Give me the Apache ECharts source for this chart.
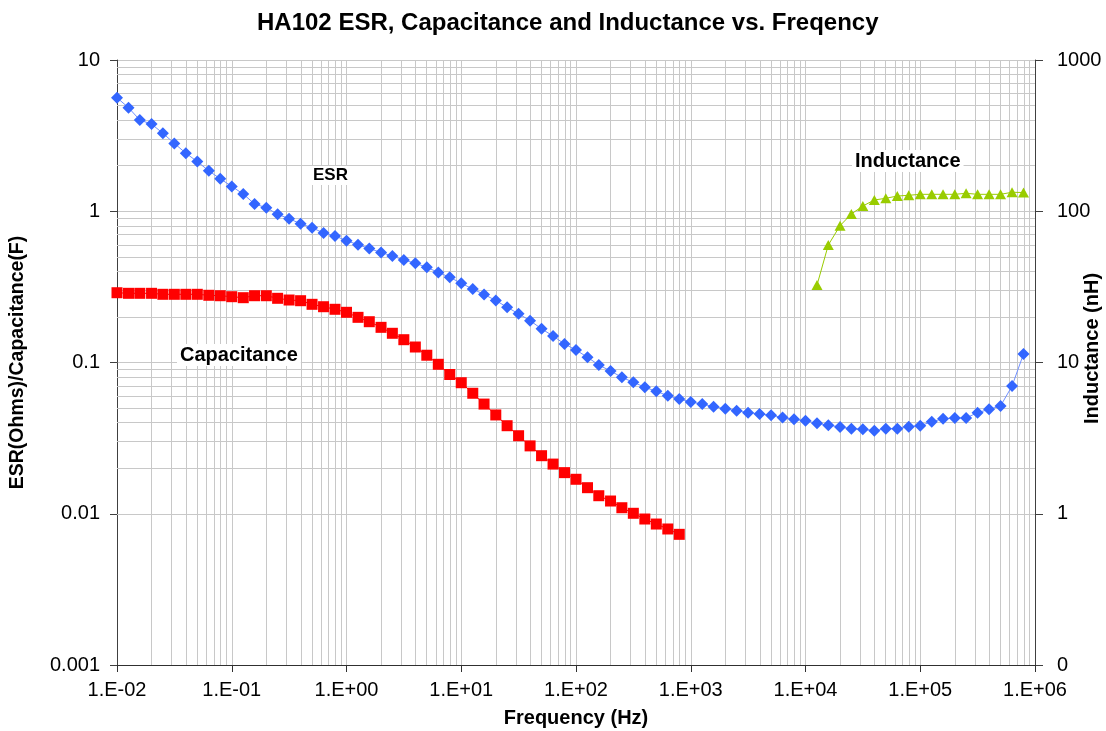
<!DOCTYPE html>
<html>
<head>
<meta charset="utf-8">
<script src="https://cdn.jsdelivr.net/npm/echarts@6/dist/echarts.min.js"></script>
<style>
html,body{margin:0;padding:0;background:#fff;}
#chart{width:1106px;height:731px;}
</style>
</head>
<body>
<div id="chart"></div>
<script>
// Frequencies (Hz), 10 points per decade
const freq = [
  0.01,0.0126,0.0158,0.02,0.0251,0.0316,0.0398,0.0501,0.0631,0.0794,
  0.1,0.126,0.158,0.2,0.251,0.316,0.398,0.501,0.631,0.794,
  1,1.26,1.58,2,2.51,3.16,3.98,5.01,6.31,7.94,
  10,12.6,15.8,20,25.1,31.6,39.8,50.1,63.1,79.4,
  100,126,158,200,251,316,398,501,631,794,
  1000,1260,1580,2000,2510,3160,3980,5010,6310,7940,
  10000,12600,15800,20000,25100,31600,39800,50100,63100,79400,
  100000,126000,158000,200000,251000,316000,398000,501000,631000,794000
];
// ESR (Ohms) at every frequency
const esr = [
  5.63,4.84,4.01,3.77,3.28,2.81,2.42,2.13,1.85,1.64,
  1.46,1.30,1.117,1.056,0.955,0.893,0.827,0.778,0.718,0.686,
  0.639,0.601,0.567,0.534,0.506,0.476,0.453,0.426,0.394,0.366,
  0.334,0.306,0.282,0.257,0.232,0.210,0.189,0.167,0.1497,0.1325,
  0.121,0.1082,0.0963,0.0879,0.0798,0.0740,0.0686,0.0645,0.0603,0.0574,
  0.0548,0.0531,0.0510,0.0495,0.0480,0.0466,0.0457,0.0448,0.0433,0.0421,
  0.0412,0.0396,0.0385,0.0375,0.0365,0.0362,0.0354,0.0365,0.0365,0.0376,
  0.0382,0.0406,0.0425,0.0430,0.0430,0.0466,0.0490,0.0516,0.0699,0.1138
];
// Capacitance (F), first 50 frequencies
const capacitance = [
  0.2893,0.2867,0.2867,0.2867,0.2824,0.2824,0.2824,0.2824,0.2782,0.2764,
  0.2723,0.2682,0.2764,0.2764,0.2657,0.2589,0.2562,0.2425,0.2338,0.2248,
  0.2147,0.1989,0.1861,0.1708,0.1560,0.1415,0.1266,0.1117,0.0973,0.0833,
  0.0735,0.0626,0.0531,0.0450,0.0382,0.0328,0.0281,0.0242,0.0213,0.0187,
  0.0169,0.01487,0.01316,0.01214,0.01096,0.01007,0.00923,0.00855,0.00793,0.00731
];
// Inductance (nH)
const indFreq = [12600,15800,20000,25100,31600,39800,50100,63100,79400,
  100000,126000,158000,200000,251000,316000,398000,501000,631000,794000];
const inductance = [32.5,59.8,80.3,95.9,108.3,118.7,121.8,126.1,127.5,
  129.4,129.4,129.4,129.4,131.4,129.4,129.4,129.4,133.5,133.0];

const xTickLabel = v => {
  const e = Math.round(Math.log10(v));
  const s = e < 0 ? '-' : '+';
  const a = Math.abs(e);
  return '1.E' + s + (a < 10 ? '0' + a : a);
};

// minor grid lines (2..9 per decade)
const minorX = [], minorY = [];
for (let e = -2; e < 6; e++) for (let m = 2; m <= 9; m++) minorX.push({xAxis: m * Math.pow(10, e)});
for (let e = -3; e < 1; e++) for (let m = 2; m <= 9; m++) minorY.push({yAxis: m * Math.pow(10, e)});

const gridColor = '#c8c8c8';
const font = '"Liberation Sans", Arial, sans-serif';

const chart = echarts.init(document.getElementById('chart'), null, {renderer: 'canvas'});
chart.setOption({
  animation: false,
  backgroundColor: '#fff',
  textStyle: {fontFamily: font},
  title: {
    text: 'HA102 ESR, Capacitance and Inductance vs. Freqency',
    left: 252, top: 6,
    textStyle: {fontSize: 24, fontWeight: 'bold', color: '#000', fontFamily: font}
  },
  grid: {left: 117, right: 71, top: 60, bottom: 66, containLabel: false, outerBoundsMode: 'none'},
  xAxis: {
    type: 'log', logBase: 10, min: 0.01, max: 1e6, splitNumber: 8,
    name: 'Frequency (Hz)', nameLocation: 'middle', nameGap: 43, nameMoveOverlap: false,
    nameTextStyle: {fontSize: 20, fontWeight: 'bold', color: '#000', fontFamily: font},
    axisLine: {lineStyle: {color: '#303030', width: 1}},
    axisTick: {show: true, length: 7, lineStyle: {color: '#303030'}},
    axisLabel: {formatter: xTickLabel, fontSize: 20, color: '#000', margin: 15, fontFamily: font},
    splitLine: {show: true, lineStyle: {color: gridColor, width: 1}}
  },
  yAxis: [{
    type: 'log', logBase: 10, min: 0.001, max: 10, splitNumber: 4,
    name: 'ESR(Ohms)/Capacitance(F)', nameLocation: 'middle', nameGap: 89, nameMoveOverlap: false,
    nameTextStyle: {fontSize: 19.5, fontWeight: 'bold', color: '#000', fontFamily: font},
    axisLine: {show: true, lineStyle: {color: '#404040', width: 1}},
    axisTick: {show: true, length: 7, lineStyle: {color: '#404040'}},
    axisLabel: {fontSize: 20, color: '#000', margin: 17, fontFamily: font,
      formatter: v => String(+v.toPrecision(3))},
    splitLine: {show: true, lineStyle: {color: gridColor, width: 1}}
  }, {
    type: 'log', logBase: 10, min: 0.1, max: 1000, splitNumber: 4, position: 'right',
    name: 'Inductance (nH)', nameLocation: 'middle', nameGap: 47, nameMoveOverlap: false,
    nameTextStyle: {fontSize: 20, fontWeight: 'bold', color: '#000', fontFamily: font, padding: [0, 0, 0, 28]},
    axisLine: {show: true, lineStyle: {color: '#404040', width: 1}},
    axisTick: {show: true, length: 8, lineStyle: {color: '#404040'}},
    axisLabel: {fontSize: 20, color: '#000', margin: 22, fontFamily: font,
      formatter: v => v < 1 ? '0' : String(Math.round(v))},
    splitLine: {show: false}
  }],
  series: [{
    type: 'line', name: 'grid', data: [], silent: true, z: 1,
    markLine: {
      silent: true, symbol: ['none', 'none'], label: {show: false},
      lineStyle: {color: gridColor, width: 1, type: 'solid'},
      emphasis: {disabled: true},
      data: minorX.concat(minorY)
    }
  }, {
    type: 'line', name: 'ESR', z: 5,
    data: freq.map((f, i) => [f, esr[i]]),
    symbol: 'diamond', symbolSize: 12,
    itemStyle: {color: '#3366ff'},
    lineStyle: {color: '#6f8fff', width: 1}
  }, {
    type: 'line', name: 'Capacitance', z: 5,
    data: capacitance.map((c, i) => [freq[i], c]),
    symbol: 'rect', symbolSize: 11,
    itemStyle: {color: '#ff0000'},
    lineStyle: {color: '#ff0000', width: 1}
  }, {
    type: 'line', name: 'Inductance', yAxisIndex: 1, z: 5,
    data: indFreq.map((f, i) => [f, inductance[i]]),
    symbol: 'triangle', symbolSize: [11, 10],
    itemStyle: {color: '#99cc00'},
    lineStyle: {color: '#99cc00', width: 1}
  }],
  graphic: [{
    type: 'text', left: 310, top: 166, z: 10,
    style: {text: 'ESR', font: 'bold 17px ' + font, fill: '#000', backgroundColor: '#fff', padding: [1, 3]}
  }, {
    type: 'text', left: 177, top: 344, z: 10,
    style: {text: 'Capacitance', font: 'bold 20px ' + font, fill: '#000', backgroundColor: '#fff', padding: [1, 3]}
  }, {
    type: 'text', left: 852, top: 150, z: 10,
    style: {text: 'Inductance', font: 'bold 20px ' + font, fill: '#000', backgroundColor: '#fff', padding: [1, 3]}
  }]
});
</script>
</body>
</html>
